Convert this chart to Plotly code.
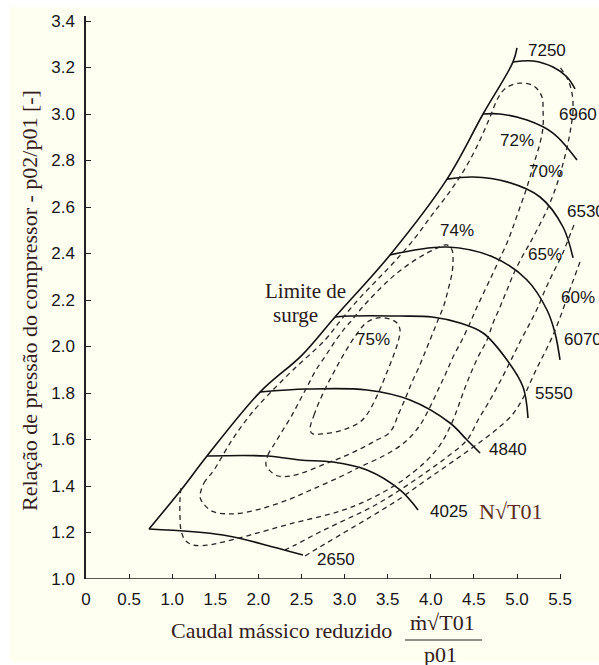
import plotly.graph_objects as go

# ---------------- data ----------------
x_ticks = [0, 0.5, 1.0, 1.5, 2.0, 2.5, 3.0, 3.5, 4.0, 4.5, 5.0, 5.5]
x_tick_text = ["0", "0.5", "1.0", "1.5", "2.0", "2.5", "3.0", "3.5", "4.0", "4.5", "5.0", "5.5"]
y_ticks = [1.0, 1.2, 1.4, 1.6, 1.8, 2.0, 2.2, 2.4, 2.6, 2.8, 3.0, 3.2, 3.4]
y_tick_text = ["1.0", "1.2", "1.4", "1.6", "1.8", "2.0", "2.2", "2.4", "2.6", "2.8", "3.0", "3.2", "3.4"]

# surge limit
surge_x = [0.731, 1.102, 1.404, 2.019, 2.506, 2.889, 3.527, 4.188, 4.606, 4.954, 5.000]
surge_y = [1.215, 1.383, 1.529, 1.804, 1.963, 2.127, 2.394, 2.720, 3.000, 3.224, 3.284]

# constant speed lines  N*sqrt(T01)
speed_names = ["7250", "6960", "6530", "6070", "5550", "4840", "4025", "2650"]
n7250_x = [4.954, 5.186, 5.418, 5.580, 5.673]
n7250_y = [3.224, 3.228, 3.202, 3.159, 3.108]
n6960_x = [4.606, 4.803, 5.116, 5.418, 5.696]
n6960_y = [3.000, 3.000, 2.974, 2.918, 2.802]
n6530_x = [4.188, 4.490, 4.884, 5.267, 5.534, 5.650]
n6530_y = [2.720, 2.729, 2.708, 2.643, 2.514, 2.381]
n6070_x = [3.527, 4.188, 4.722, 5.116, 5.348, 5.441, 5.499]
n6070_y = [2.394, 2.428, 2.385, 2.286, 2.157, 2.058, 1.942]
n5550_x = [2.889, 3.063, 3.643, 4.017, 4.339, 4.606, 4.884, 5.070, 5.128]
n5550_y = [2.127, 2.131, 2.131, 2.127, 2.101, 2.058, 1.942, 1.826, 1.692]
n4840_x = [2.019, 2.564, 3.260, 3.759, 4.223, 4.420, 4.571]
n4840_y = [1.804, 1.817, 1.813, 1.770, 1.671, 1.598, 1.542]
n4025_x = [1.404, 2.100, 2.483, 2.865, 3.260, 3.643, 3.852]
n4025_y = [1.529, 1.529, 1.512, 1.503, 1.469, 1.383, 1.297]
n2650_x = [0.731, 1.589, 2.169, 2.517]
n2650_y = [1.215, 1.189, 1.138, 1.103]

# efficiency contours
eff_names = ["75%", "74%", "72%", "70%", "65%", "60%"]
e75_x = [2.599, 2.645, 2.715, 2.796, 2.889, 3.005, 3.132, 3.248, 3.387, 3.527, 3.608, 3.643,
         3.619, 3.561, 3.492, 3.422, 3.353, 3.271, 3.179, 3.039, 2.889, 2.738, 2.633, 2.599]
e75_y = [1.641, 1.705, 1.770, 1.834, 1.899, 1.976, 2.049, 2.101, 2.123, 2.118, 2.101, 2.071,
         2.019, 1.955, 1.890, 1.826, 1.770, 1.714, 1.675, 1.649, 1.632, 1.624, 1.624, 1.641]
e74_x = [2.088, 2.111, 2.193, 2.285, 2.390, 2.483, 2.575, 2.668, 2.784, 2.900, 3.005, 3.086,
         3.179, 3.283, 3.515, 3.701, 3.875, 4.049, 4.188, 4.246, 4.258, 4.246, 4.200, 4.153,
         4.084, 4.014, 3.944, 3.863, 3.782, 3.712, 3.631, 3.527, 3.353, 3.179, 2.947, 2.773,
         2.541, 2.367, 2.227, 2.135, 2.088]
e74_y = [1.490, 1.533, 1.585, 1.641, 1.705, 1.770, 1.834, 1.899, 1.963, 2.028, 2.080, 2.114,
         2.157, 2.200, 2.286, 2.342, 2.385, 2.419, 2.437, 2.415, 2.372, 2.316, 2.243, 2.178,
         2.114, 2.049, 1.985, 1.912, 1.847, 1.783, 1.714, 1.632, 1.594, 1.559, 1.520, 1.495,
         1.460, 1.443, 1.443, 1.465, 1.490]
e72_x = [1.323, 1.369, 1.485, 1.694, 1.903, 2.111, 2.401, 2.773, 2.958, 3.155, 3.376, 3.596,
         3.817, 4.014, 4.234, 4.420, 4.571, 4.687, 4.780, 4.872, 5.035, 5.197, 5.290, 5.302,
         5.302, 5.267, 5.209, 5.151, 5.093, 5.023, 4.954, 4.884, 4.803, 4.722, 4.629, 4.536,
         4.455, 4.362, 4.258, 4.176, 4.095, 3.991, 3.875, 3.701, 3.469, 3.179, 2.947, 2.633,
         2.367, 2.019, 1.694, 1.462, 1.357, 1.323]
e72_y = [1.353, 1.413, 1.469, 1.598, 1.705, 1.791, 1.899, 2.028, 2.114, 2.200, 2.286, 2.372,
         2.467, 2.566, 2.673, 2.780, 2.888, 2.987, 3.069, 3.112, 3.133, 3.120, 3.073, 3.017,
         2.944, 2.875, 2.802, 2.729, 2.660, 2.587, 2.514, 2.445, 2.381, 2.316, 2.243, 2.170,
         2.101, 2.028, 1.955, 1.886, 1.822, 1.740, 1.662, 1.589, 1.533, 1.482, 1.439, 1.387,
         1.344, 1.301, 1.280, 1.292, 1.327, 1.353]
e70_x = [1.102, 1.090, 1.090, 1.102, 1.148, 1.241, 1.415, 1.589, 1.903, 2.367, 2.947, 3.295,
         3.643, 3.933, 4.107, 4.223, 4.304, 4.374, 4.455, 4.548, 4.652, 4.722, 4.803, 4.884,
         4.965, 5.058, 5.151, 5.244, 5.336, 5.418, 5.487, 5.545, 5.592, 5.626, 5.650, 5.638,
         5.592, 5.499]
e70_y = [1.391, 1.340, 1.275, 1.211, 1.168, 1.146, 1.146, 1.159, 1.189, 1.237, 1.292, 1.344,
         1.417, 1.503, 1.576, 1.654, 1.727, 1.800, 1.877, 1.955, 2.028, 2.101, 2.170, 2.243,
         2.316, 2.385, 2.445, 2.510, 2.578, 2.651, 2.725, 2.802, 2.875, 2.944, 3.017, 3.090,
         3.146, 3.202]
e65_x = [5.661, 5.592, 5.522, 5.418, 5.325, 5.244, 5.151, 5.046, 4.942, 4.826, 4.687, 4.548,
         4.420, 4.188, 3.933, 3.643, 3.318, 3.005, 2.691, 2.425, 2.309]
e65_y = [2.523, 2.458, 2.394, 2.316, 2.243, 2.170, 2.101, 2.028, 1.950, 1.865, 1.770, 1.684,
         1.598, 1.525, 1.456, 1.383, 1.310, 1.254, 1.198, 1.146, 1.125]
e60_x = [5.731, 5.603, 5.510, 5.418, 5.325, 5.232, 5.151, 5.058, 4.942, 4.780, 4.606, 4.397,
         4.165, 3.898, 3.619, 3.318, 3.005, 2.691, 2.541]
e60_y = [2.364, 2.234, 2.135, 2.049, 1.976, 1.908, 1.843, 1.770, 1.705, 1.649, 1.598, 1.542,
         1.482, 1.413, 1.340, 1.271, 1.202, 1.133, 1.099]

# label anchor points (data units)
speed_label_x = [5.348, 5.465, 5.557, 5.522, 5.186, 4.652, 3.968, 2.657]
speed_label_y = [3.271, 3.000, 2.579, 2.028, 1.796, 1.559, 1.292, 1.086]
eff_label_x = [3.329, 4.304, 5.000, 5.336, 5.325, 5.708]
eff_label_y = [2.028, 2.501, 2.884, 2.751, 2.394, 2.209]

# ---------------- figure ----------------
W, H = 599, 665
ML, MR, MT, MB = 86, 0, 16, 86
PW, PH = W - ML - MR, H - MT - MB
X_PER_PX = 1 / 86.2
Y_PER_PX = 1 / 232.5
x_range = [0, PW * X_PER_PX]
y_range = [1.0, 1.0 + PH * Y_PER_PX]


def px_to_paper(px, py):
    return (px - ML) / PW, (H - MB - py) / PH


fig = go.Figure()

solid = dict(color="#111111", width=1.6)
dashed = dict(color="#262626", width=1.3, dash="5px,4px")

fig.add_trace(go.Scatter(x=surge_x, y=surge_y, mode="lines", line=solid,
                         line_shape="spline", hoverinfo="skip", showlegend=False))

speed_xs = [n7250_x, n6960_x, n6530_x, n6070_x, n5550_x, n4840_x, n4025_x, n2650_x]
speed_ys = [n7250_y, n6960_y, n6530_y, n6070_y, n5550_y, n4840_y, n4025_y, n2650_y]
for sx, sy in zip(speed_xs, speed_ys):
    fig.add_trace(go.Scatter(x=sx, y=sy, mode="lines", line=solid, line_shape="spline",
                             hoverinfo="skip", showlegend=False))

eff_xs = [e75_x, e74_x, e72_x, e70_x, e65_x, e60_x]
eff_ys = [e75_y, e74_y, e72_y, e70_y, e65_y, e60_y]
for ex, ey in zip(eff_xs, eff_ys):
    fig.add_trace(go.Scatter(x=ex, y=ey, mode="lines", line=dashed, line_shape="spline",
                             hoverinfo="skip", showlegend=False))

ann = []
num_font = dict(family="Liberation Sans, Arial, sans-serif", size=17, color="#161616")
serif_font = dict(family="Liberation Serif, Times New Roman, serif", size=22, color="#33201c")

for i, (name, lx, ly) in enumerate(zip(speed_names, speed_label_x, speed_label_y)):
    ann.append(dict(x=lx, y=ly, xref="x", yref="y", text=name, showarrow=False,
                    font=num_font, xanchor="center" if i == 0 else "left", yanchor="middle"))
for name, lx, ly in zip(eff_names, eff_label_x, eff_label_y):
    ann.append(dict(x=lx, y=ly, xref="x", yref="y", text=name, showarrow=False,
                    font=num_font, xanchor="center", yanchor="middle"))

# N sqrt(T01) tag next to 4025
ann.append(dict(x=4.536, y=1.292, xref="x", yref="y", text="N\u221aT01", showarrow=False,
                font=dict(family="Liberation Serif, serif", size=22, color="#5b2c1e"),
                xanchor="left", yanchor="middle"))
# surge label
ann.append(dict(x=2.541, y=2.239, xref="x", yref="y", text="Limite de", showarrow=False,
                font=dict(family="Liberation Serif, serif", size=21, color="#2a1a1a"),
                xanchor="center", yanchor="middle"))
ann.append(dict(x=2.425, y=2.135, xref="x", yref="y", text="surge", showarrow=False,
                font=dict(family="Liberation Serif, serif", size=21, color="#2a1a1a"),
                xanchor="center", yanchor="middle"))

# axis titles
px_, py_ = px_to_paper(29, 301)
ann.append(dict(x=px_, y=py_, xref="paper", yref="paper",
                text="Relação de pressão do compressor - p02/p01 [-]", showarrow=False,
                textangle=-90, font=serif_font, xanchor="center", yanchor="middle"))
px_, py_ = px_to_paper(281, 630)
ann.append(dict(x=px_, y=py_, xref="paper", yref="paper", text="Caudal mássico reduzido",
                showarrow=False, font=serif_font, xanchor="center", yanchor="middle"))
px_, py_ = px_to_paper(442, 622)
ann.append(dict(x=px_, y=py_, xref="paper", yref="paper", text="\u1e41\u221aT01",
                showarrow=False, font=serif_font, xanchor="center", yanchor="middle"))
px_, py_ = px_to_paper(440, 654)
ann.append(dict(x=px_, y=py_, xref="paper", yref="paper", text="p01",
                showarrow=False, font=serif_font, xanchor="center", yanchor="middle"))

shapes = []
# cream page background
bx0, by0 = px_to_paper(10, 662)
bx1, by1 = px_to_paper(W + 5, 7)
shapes.append(dict(type="rect", xref="paper", yref="paper", x0=bx0, y0=by0, x1=bx1, y1=by1,
                   fillcolor="#FEFEF1", line=dict(width=0), layer="below"))
# x axis line (from 0 to last tick)
shapes.append(dict(type="line", xref="x", yref="y", x0=x_ticks[0], x1=x_ticks[-1],
                   y0=y_ticks[0], y1=y_ticks[0], line=dict(color="#222", width=1.5)))
# fraction bar
fx0, fy = px_to_paper(405, 640)
fx1, _ = px_to_paper(482, 640)
shapes.append(dict(type="line", xref="paper", yref="paper", x0=fx0, x1=fx1, y0=fy, y1=fy,
                   line=dict(color="#222", width=1.2)))

fig.update_layout(
    width=W, height=H,
    margin=dict(l=ML, r=MR, t=MT, b=MB, pad=0),
    paper_bgcolor="white",
    plot_bgcolor="rgba(0,0,0,0)",
    showlegend=False,
    annotations=ann,
    shapes=shapes,
    xaxis=dict(range=x_range, tickvals=x_ticks, ticktext=x_tick_text, ticks="inside",
               ticklen=5, tickwidth=1.3, tickcolor="#222", showgrid=False, zeroline=False,
               showline=False, tickfont=num_font, ticklabelstandoff=8, fixedrange=True),
    yaxis=dict(range=y_range, tickvals=y_ticks, ticktext=y_tick_text, ticks="inside",
               ticklen=5, tickwidth=1.3, tickcolor="#222", showgrid=False, zeroline=False,
               showline=True, linecolor="#222", linewidth=1.5, tickfont=num_font,
               ticklabelstandoff=6, fixedrange=True),
)

fig.write_html("out.html")
